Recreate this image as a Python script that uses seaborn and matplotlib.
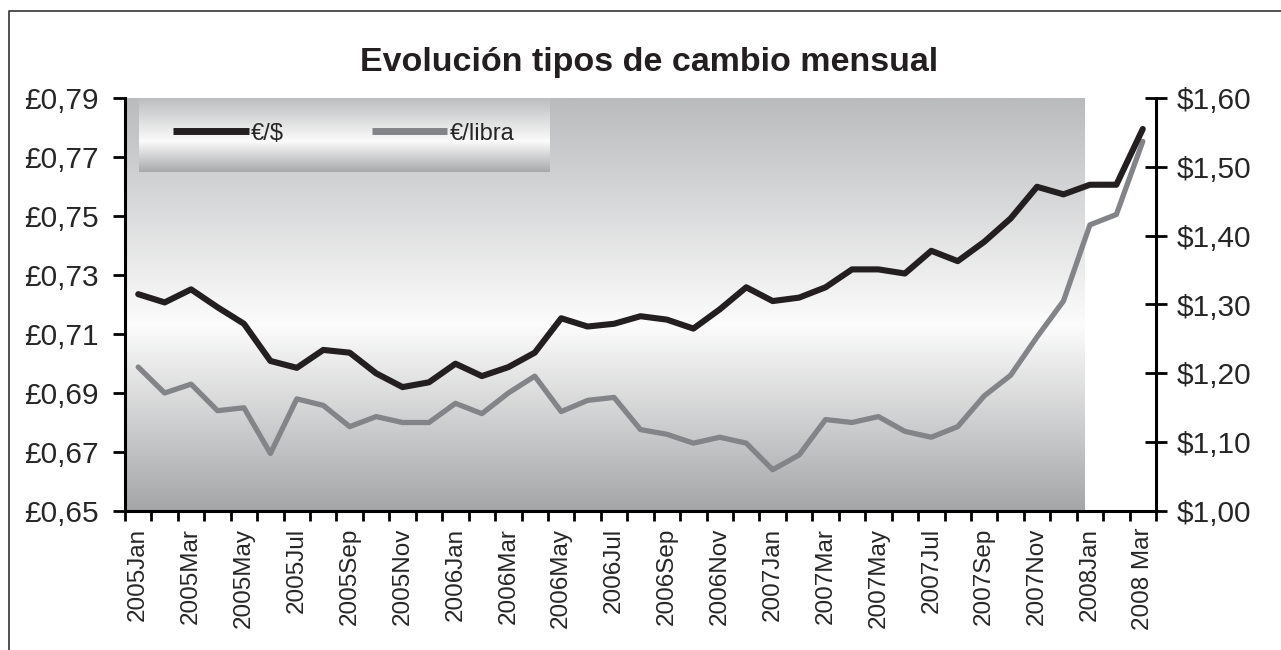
import numpy as np
import matplotlib
matplotlib.use("Agg")
import matplotlib.pyplot as plt
from matplotlib.colors import LinearSegmentedColormap
from matplotlib.lines import Line2D
from matplotlib.ticker import FuncFormatter, FixedLocator
import seaborn as sns

# monthly exchange rates, 2005 Jan .. 2008 Mar
months = ['Jan', 'Feb', 'Mar', 'Apr', 'May', 'Jun', 'Jul', 'Aug', 'Sep', 'Oct', 'Nov', 'Dec']
periods = [f"{y}{m}" for y in (2005, 2006, 2007) for m in months] + ['2008Jan', '2008Feb', '2008 Mar']

eur_usd = [1.315, 1.303, 1.322, 1.296, 1.272, 1.218, 1.208, 1.234, 1.230, 1.200,
           1.180, 1.187, 1.214, 1.196, 1.209, 1.230, 1.280, 1.268, 1.272, 1.283,
           1.278, 1.265, 1.293, 1.325, 1.305, 1.310, 1.325, 1.351, 1.351, 1.345,
           1.378, 1.363, 1.391, 1.425, 1.471, 1.460, 1.474, 1.474, 1.555]

eur_gbp = [0.6988, 0.690, 0.693, 0.684, 0.685, 0.6695, 0.688, 0.6858, 0.6786, 0.682,
           0.680, 0.680, 0.6865, 0.683, 0.690, 0.6957, 0.6837, 0.6875, 0.6885, 0.6776,
           0.676, 0.673, 0.675, 0.673, 0.664, 0.669, 0.681, 0.680, 0.682, 0.677,
           0.675, 0.6786, 0.689, 0.696, 0.709, 0.7212, 0.747, 0.7505, 0.7753]

labels_usd = '€/$'
labels_gbp = '€/libra'

sns.set_style("ticks")
plt.rcParams['font.family'] = ['Liberation Sans', 'DejaVu Sans']

BLACK = '#231f20'
GREY = '#838487'

fig = plt.figure(figsize=(12.81, 6.5), dpi=100)
ax = fig.add_axes([125 / 1281, 1 - 511 / 650, (1156 - 125) / 1281, (511 - 98) / 650])
ax2 = ax.twinx()

x = np.arange(len(periods))

# background gradient (only up to 2008 Jan-ish, like the original)
bg = LinearSegmentedColormap.from_list('bg', [(0, '#a5a6a8'), (0.45, '#fcfcfc'), (1, '#babbbd')])
grad = np.linspace(0, 1, 256).reshape(-1, 1)
ax.imshow(grad, cmap=bg, origin='lower', aspect='auto',
          extent=[-0.5, 35.8, 0.65, 0.79], zorder=0)

sns.lineplot(x=x, y=eur_gbp, ax=ax, color=GREY, lw=3.8, zorder=3)
sns.lineplot(x=x, y=eur_usd, ax=ax2, color=BLACK, lw=4.4, zorder=3)

ax.set_xlim(-0.5, len(periods) - 0.5)
ax.set_ylim(0.65, 0.79)
ax2.set_ylim(1.0, 1.6)
ax.set_yticks(np.arange(0.65, 0.791, 0.02))
ax2.set_yticks(np.arange(1.0, 1.61, 0.1))
ax.yaxis.set_major_formatter(FuncFormatter(lambda v, _: f"£{v:.2f}".replace('.', ',')))
ax2.yaxis.set_major_formatter(FuncFormatter(lambda v, _: f"${v:.2f}".replace('.', ',')))

ax.set_xticks(x[::2])
ax.set_xticklabels(periods[::2], rotation=90, fontsize=17.5)
ax.xaxis.set_minor_locator(FixedLocator(np.arange(-0.5, len(periods), 1)))
ax.tick_params(axis='x', which='major', length=0, pad=12)
ax.tick_params(axis='x', which='minor', length=7, width=2, direction='out', color='black')
ax.tick_params(axis='y', length=8.6, width=2, direction='out', labelsize=21.5, pad=10.5, color='black')
ax2.tick_params(axis='y', length=16, width=2, direction='inout', labelsize=21.5, pad=7, color='black')

for s in ['top', 'right']:
    ax.spines[s].set_visible(False)
for s in ['top', 'left', 'bottom']:
    ax2.spines[s].set_visible(False)
for a, s in [(ax, 'left'), (ax, 'bottom'), (ax2, 'right')]:
    a.spines[s].set_linewidth(2.2)
    a.spines[s].set_color('black')
ax.set_xlabel('')
ax.set_ylabel('')
ax2.set_ylabel('')
ax.set_facecolor('white')

# legend with its own gradient box
lax = fig.add_axes([139 / 1281, 1 - 172 / 650, (550 - 139) / 1281, (172 - 98) / 650])
lg = LinearSegmentedColormap.from_list('lg', [(0, '#a8a9ab'), (0.42, '#fbfbfb'), (1, '#bcbdbf')])
lax.imshow(grad, cmap=lg, origin='lower', aspect='auto', extent=[0, 1, 0, 1])
lax.set_xlim(0, 1)
lax.set_ylim(0, 1)
lax.axis('off')
handles = [Line2D([], [], color=BLACK, lw=5, solid_capstyle='butt'),
           Line2D([], [], color=GREY, lw=5, solid_capstyle='butt')]
lax.legend(handles, [labels_usd, labels_gbp], ncol=2, loc='center left',
           bbox_to_anchor=(0.055, 0.52), frameon=False, fontsize=17,
           handlelength=3.2, handletextpad=0.1, columnspacing=3.7, borderpad=0)

fig.text(0.507, 1 - 62 / 650, 'Evolución tipos de cambio mensual', ha='center', va='center',
         fontsize=24.5, fontweight='bold', color=BLACK)

# outer frame
fig.add_artist(Line2D([9 / 1281, 9 / 1281, 1.0], [0.0, 1 - 11 / 650, 1 - 11 / 650],
                      transform=fig.transFigure, color='#333333', lw=1.2))

fig.savefig('out.png', dpi=100)
